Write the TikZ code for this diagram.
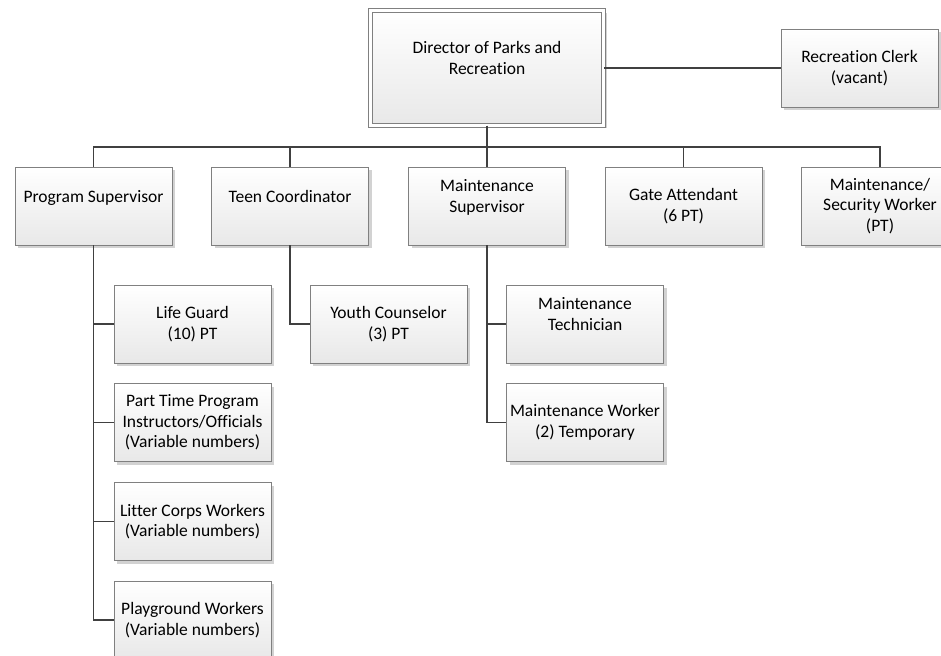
\documentclass[tikz,border=0pt]{standalone}
\usepackage{fontspec}
\setmainfont{Carlito}[Ligatures=NoCommon]
\usetikzlibrary{calc,positioning,shadows}

\tikzset{
  post/.style={draw=black!50, line width=0.8pt, top color=white, bottom color=black!9,
    minimum width=157pt, minimum height=78pt, align=center, inner sep=2pt,
    font=\fontsize{17.5}{20.5}\selectfont,
    drop shadow={shadow xshift=3pt, shadow yshift=-3pt, fill=black!22, opacity=0.8}},
  lift/.style={text depth=20pt},
  link/.style={draw=black!75, line width=1.8pt},
}

\begin{document}
\begin{tikzpicture}[x=1pt,y=-1pt]
  \useasboundingbox (0,0) rectangle (941,655);
  % head of the department
  \node[post, double=white, double distance=3pt, minimum width=233pt, minimum height=115pt, lift] (dir) at (487,68) {Director of Parks and\\Recreation};
  \node[post] (clerk) at (859.5,68) {Recreation Clerk\\(vacant)};
  \draw[link] (dir.east) -- (clerk.west);
  \coordinate (bus) at (0,147);
  % second row
  \foreach \n/\x/\txt/\opt in {ps/93.5/{Program Supervisor}/lift, tc/290/{Teen Coordinator}/lift,
      ms/487/{Maintenance\\Supervisor}/lift, ga/683.5/{Gate Attendant\\(6 PT)}/,
      sw/880/{Maintenance/\\Security Worker\\(PT)}/} {
    \node[post,\opt] (\n) at (\x,206) {\txt};
    \draw[link] (dir.south) -- (dir.south |- bus) -| (\n.north);
  }
  % staff under the program supervisor
  \foreach \n/\y/\txt in {lg/324/{Life Guard\\(10) PT},
      pt/422.5/{Part Time Program\\Instructors/Officials\\(Variable numbers)},
      lc/521.5/{Litter Corps Workers\\(Variable numbers)},
      pw/620/{Playground Workers\\(Variable numbers)}} {
    \node[post] (\n) at (192.5,\y) {\txt};
    \draw[link] (ps.south) |- (\n.west);
  }
  \node[post] (yc) at (388.5,324) {Youth Counselor\\(3) PT};
  \draw[link] (tc.south) |- (yc.west);
  \node[post,lift] (mt) at (585,324) {Maintenance\\Technician};
  \node[post] (mw) at (585,422.5) {Maintenance Worker\\(2) Temporary};
  \draw[link] (ms.south) |- (mt.west);
  \draw[link] (ms.south) |- (mw.west);
\end{tikzpicture}
\end{document}
